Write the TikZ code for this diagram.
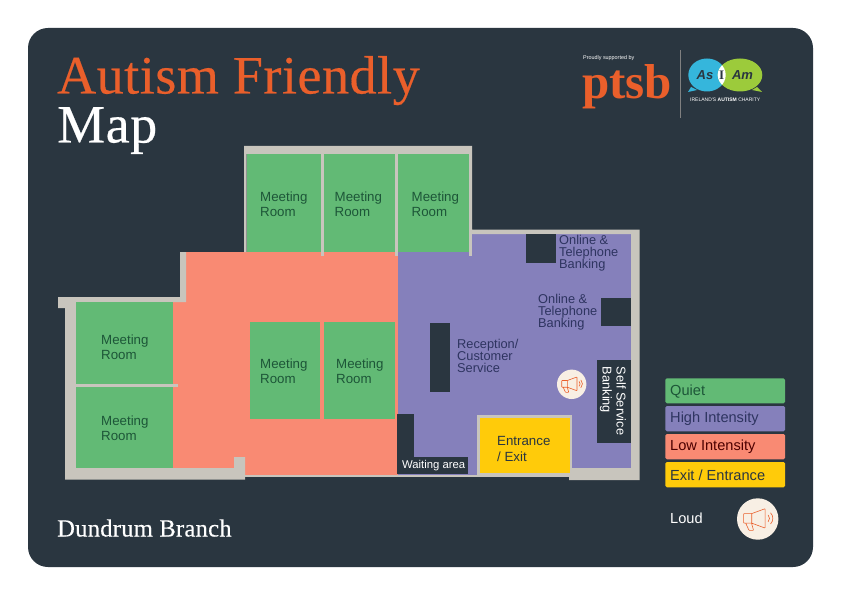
\documentclass[tikz,border=0pt]{standalone}
\usepackage{fontspec}
\setmainfont{Liberation Sans}
\newfontfamily\titlefont[FakeBold=0.35,LetterSpace=1]{Liberation Serif}
\newfontfamily\logofont{Liberation Serif}
\definecolor{mapbg}{HTML}{2A3640}
\definecolor{wallgrey}{HTML}{C8C5BD}
\definecolor{quietgreen}{HTML}{62BA75}
\definecolor{highpurple}{HTML}{8580BB}
\definecolor{lowsalmon}{HTML}{F98A73}
\definecolor{exityellow}{HTML}{FFCB0A}
\definecolor{brandorange}{HTML}{EA5F2B}
\definecolor{cream}{HTML}{F8EFE4}
\definecolor{roomtext}{HTML}{1D5638}
\definecolor{hightext}{HTML}{2E3460}
\definecolor{asblue}{HTML}{35B6DC}
\definecolor{asgreen}{HTML}{9CCB3B}
\tikzset{
  txtlabel/.style={anchor=west,inner sep=0pt,align=left,font=\fontsize{13.3}{15.5}\selectfont},
  roomlabel/.style={txtlabel,text=roomtext},
  hilabel/.style={txtlabel,text=hightext,font=\fontsize{12.8}{12}\selectfont},
  keybar/.style={rounded corners=1.5pt},
  keylabel/.style={txtlabel,font=\fontsize{14.6}{15}\selectfont},
  loudicon/.pic={
    \fill[cream] (0,0) circle (1);
    \draw[brandorange,line width=.6pt,line join=round,rounded corners=.6pt]
      (-.68,-.26) -- (-.29,-.26) -- (.36,-.5) -- (.36,.44) -- (-.29,.2) -- (-.68,.2) -- cycle
      (-.29,-.26) -- (-.29,.2)
      (-.58,.2) -- (-.42,.55) -- (-.2,.55) -- (-.3,.2);
    \draw[brandorange,line width=.6pt] (.5,-.2) arc (-45:45:.24) (.62,-.3) arc (-45:45:.38);
  }
}
\begin{document}
\begin{tikzpicture}[x=1pt,y=-1pt]
    \useasboundingbox (0,0) rectangle (842,596);
    \fill[white] (0,0) rectangle (842,596);
    \fill[mapbg,rounded corners=20pt] (28,28) rectangle (813,567);
    % title
    \node[anchor=base west,inner sep=0pt,text=brandorange,font=\titlefont\fontsize{54}{54}\selectfont] (titleone) at (57,93.5) {Autism Friendly};
    \node[anchor=base west,inner sep=0pt,text=white,font=\titlefont\fontsize{54}{54}\selectfont] (titletwo) at (57,142.5) {Map};
    \node[anchor=base west,inner sep=0pt,text=white,font=\titlefont\fontsize{24.6}{25}\selectfont] (branch) at (57,536.5) {Dundrum Branch};
    % logos
    \node[anchor=base west,inner sep=0pt,text=white,font=\fontsize{5.4}{5}\selectfont] (proudly) at (583,60) {Proudly supported by};
    \node[anchor=base west,inner sep=0pt,text=brandorange,font=\logofont\bfseries\fontsize{49}{49}\selectfont] (ptsb) at (582,99) {ptsb};
    \draw[gray,line width=.5pt] (680.5,50) -- (680.5,118);
    \fill[asblue] (707,75) ellipse (18.7 and 16.5);
    \fill[asblue] (691,87) -- (688,92) -- (697,90) -- cycle;
    \fill[asgreen] (740,75) ellipse (22.3 and 16.5);
    \fill[asgreen] (757,87) -- (762,92) -- (752,90) -- cycle;
    \begin{scope}
      \clip (707,75) ellipse (18.7 and 16.5);
      \fill[white] (740,75) ellipse (22.3 and 16.5);
    \end{scope}
    \node[text=mapbg,inner sep=0pt,font=\bfseries\itshape\fontsize{13}{13}\selectfont] (asword) at (705,75.5) {As};
    \node[text=mapbg,inner sep=0pt,font=\logofont\bfseries\fontsize{13}{13}\selectfont] (iword) at (721.7,75.5) {I};
    \node[text=mapbg,inner sep=0pt,font=\bfseries\itshape\fontsize{13}{13}\selectfont] (amword) at (742.5,75.5) {Am};
    \node[anchor=base west,inner sep=0pt,text=white,font=\fontsize{5}{5}\selectfont] (charity) at (690,101.5) {IRELAND'S \textbf{AUTISM} CHARITY};
    % floor colours
    \fill[lowsalmon] (186,252) rectangle (398,475);
    \fill[lowsalmon] (173,302) rectangle (186,468);
    \fill[highpurple] (398,234) rectangle (631,475);
    % walls
    \fill[wallgrey] (244,146) -- (472,146) -- (472,229.5) -- (639.5,229.5) -- (639.5,480) -- (569,480) -- (569,468) -- (631,468) -- (631,234) -- (469,234) -- (469,154) -- (246.7,154) -- (246.7,252) -- (244,252) -- cycle;
    \fill[wallgrey] (180,252) -- (186,252) -- (186,302) -- (76,302) -- (76,468) -- (234,468) -- (234,457) -- (245,457) -- (245,479.5) -- (65,479.5) -- (65,308) -- (58,308) -- (58,297) -- (180,297) -- cycle;
    \fill[wallgrey] (245,474.5) rectangle (477,477);
    \fill[wallgrey] (477,415) rectangle (572,477);
    \fill[wallgrey] (76,384) rectangle (178,387);
    % meeting rooms
    \foreach \xa/\ya/\xb/\yb in {246.7/154/320.7/252, 324/154/395/252, 397.7/154/469/252, 76/302/173/384, 76/387/173/468, 250/322/320/419, 324/322/395/419}
    \fill[quietgreen] (\xa,\ya) rectangle (\xb,\yb);
    \fill[wallgrey] (320.7,154) rectangle (324,256);
    \fill[wallgrey] (395,154) rectangle (397.7,256);
    \fill[wallgrey] (469,154) rectangle (472,256);
    \foreach \x/\y/\name in {260/204/ra, 334.5/204/rb, 411.5/204/rc, 101/347/rd, 101/428/re, 260/371/rf, 336/371/rg}
    \node[roomlabel] (\name) at (\x,\y) {Meeting\\Room};
    % desks
    \foreach \xa/\ya/\xb/\yb in {525.7/234/555.7/262.7, 601/297.7/631/326, 430/322.7/450/391.7, 597.3/360/630.7/443, 397.3/414.3/414/473.5, 397.3/457.3/467.7/473.5}
    \fill[mapbg] (\xa,\ya) rectangle (\xb,\yb);
    \fill[exityellow] (480,417.7) rectangle (570,473);
    % labels
    \node[hilabel] (onlineone) at (559,253.5) {Online \&\\Telephone\\Banking};
    \node[hilabel] (onlinetwo) at (538,312.5) {Online \&\\Telephone\\Banking};
    \node[hilabel] (reception) at (457,355.5) {Reception/\\Customer\\Service};
    \node[txtlabel,text=mapbg] (entrance) at (497,449) {Entrance\\/ Exit};
    \node[txtlabel,text=white,font=\fontsize{11.3}{12}\selectfont] (waiting) at (402,466) {Waiting area};
    \node[inner sep=0pt,align=left,text=white,rotate=-90,font=\fontsize{12.8}{14}\selectfont] (selfservice) at (613,401) {Self Service\\Banking};
    \pic[scale=14.7] at (571.7,384.3) {loudicon};
    % key
    \foreach \ya/\yb/\col/\txt/\tcol/\name in {378.3/403.3/quietgreen/Quiet/roomtext/ka, 406/431.3/highpurple/High Intensity/hightext/kb, 434/459.3/lowsalmon/Low Intensity/red!30!black/kc, 462/487.3/exityellow/Exit \slash\ Entrance/mapbg/kd}
    {
      \fill[\col,keybar] (665.3,\ya) rectangle (785,\yb);
      \node[keylabel,text=\tcol] (\name) at (670,{(\ya+\yb)/2+.5}) {\txt};
    }
    \node[keylabel,text=white] (loud) at (670,518.5) {Loud};
    \pic[scale=20.7] at (757.7,519) {loudicon};
\end{tikzpicture}
\end{document}
